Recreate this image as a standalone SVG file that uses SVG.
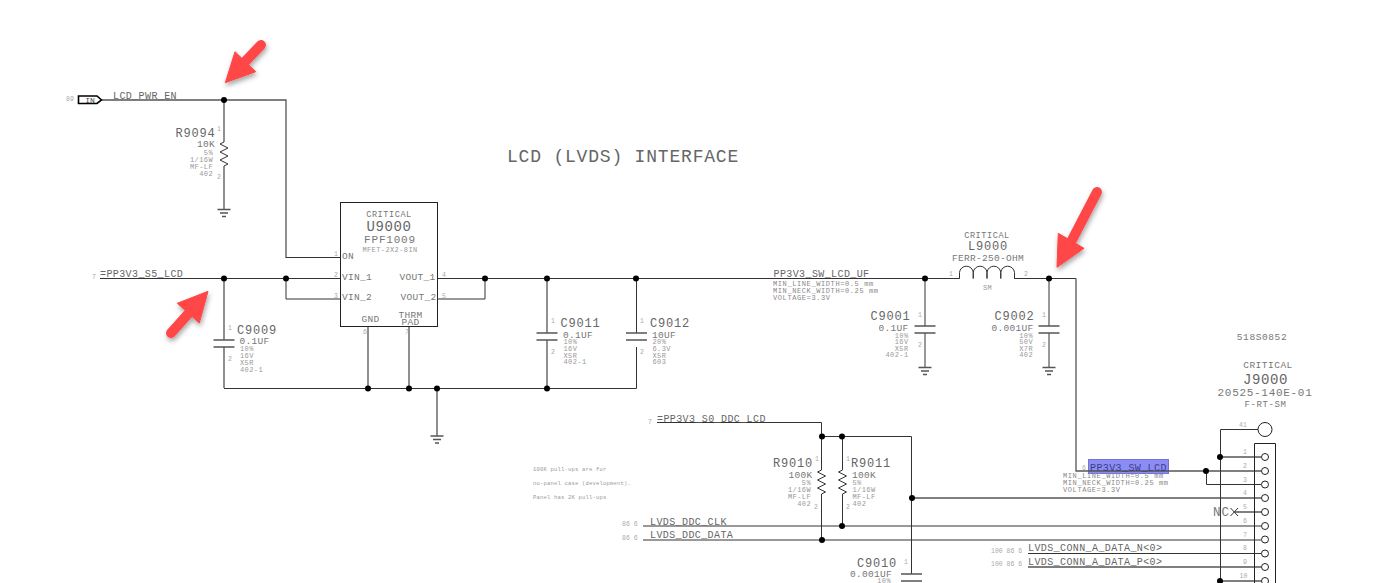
<svg xmlns="http://www.w3.org/2000/svg" width="1374" height="583" viewBox="0 0 1374 583">
<style>
text{font-family:"Liberation Mono","DejaVu Sans Mono",monospace;fill:#666}
.big{font-size:18px;letter-spacing:.8px;fill:#666}
.u{font-size:14px;letter-spacing:.6px;fill:#666}
.a{font-size:12px;letter-spacing:.8px;fill:#666}
.b{font-size:9.5px;letter-spacing:.3px;fill:#777}
.n{font-size:10px;letter-spacing:.4px;fill:#666}
.c{font-size:7px;letter-spacing:.4px;fill:#999}
.m{font-size:7px;letter-spacing:.6px;fill:#888}
.p{font-size:6.500px;fill:#aaa}
.s{font-size:5.5px;letter-spacing:.2px;fill:#999}
.e{text-anchor:end}
.mid{text-anchor:middle}
.w{fill:none;stroke:#333;stroke-width:1}
.g{fill:none;stroke:#555;stroke-width:1.300}
.j{fill:#000}
.pc{fill:#fff;stroke:#222;stroke-width:1}
.arrow{fill:#ff4646;stroke:#ff4646;filter:url(#sh)}
</style>
<defs>
<filter id="sh" x="-30%" y="-30%" width="170%" height="170%"><feDropShadow dx="1" dy="3" stdDeviation="2.5" flood-color="#000" flood-opacity=".35"/></filter>
<g id="gnd"><path class="g" d="M-6.5 0H6.5M-4 3.5H4M-2 7H2"/></g>
<g id="cap"><path class="g" d="M-10.5 0H10.5M-10.5 7H10.5"/></g>
<path id="res" class="w" d="M0 0L-4 2L4 6L-4 10L4 14L-4 18L4 22L0 24"/>
</defs>

<g id="connectors">
<path class="g" d="M102 100H286V258M224 100V142M224 166V209"/>
<path class="w" d="M286 257.5H340.5M100 278.5H340.5M286 278.5V299H340.5"/>
<path class="w" d="M437 278.5H960M437 299H485V278.5M1014 278.5H1076"/>
<path class="g" d="M224 278.5V340M224 347V388M368 326V388M409 326V388M437 388V436"/>
<path class="w" d="M224 388.5H636.5V347M636.5 333V278.5"/>
<path class="g" d="M547 278.5V333M547 340V388"/>
<path class="w" d="M925 278.5V326M925 333V367M1049 278.5V326M1049 333V367"/>
<path class="g" d="M1076 278.5V471H1261"/>
<path class="w" d="M1206.500 471V484.500H1261M657 422.500H821.500V470M821.500 494V540M842.500 436.500V470M842.500 494V526M821.500 436.500H911.500V574"/>
<path class="g" d="M911.500 498H1261"/>
<path class="w" d="M643 526H1261M643 540H1261M1028 553.500H1261"/>
<path class="g" d="M1028 567H1261M1220 457H1261M1234 512H1261M1220 581H1261"/>
<path class="w" d="M1220.500 583V429.500H1258"/>
<path class="w" d="M1230.500 508L1238 516M1238 508L1230.500 516"/>
</g>

<g id="junctions">
<circle class="j" cx="224" cy="100" r="3"/><circle class="j" cx="224" cy="278.500" r="3"/><circle class="j" cx="286" cy="278.500" r="3"/><circle class="j" cx="485" cy="278.500" r="3"/><circle class="j" cx="547" cy="278.500" r="3"/><circle class="j" cx="636" cy="278.500" r="3"/><circle class="j" cx="925" cy="278.500" r="3"/><circle class="j" cx="1049" cy="278.500" r="3"/><circle class="j" cx="368" cy="388.500" r="3"/><circle class="j" cx="409" cy="388.500" r="3"/><circle class="j" cx="437" cy="388.500" r="3"/><circle class="j" cx="547" cy="388.500" r="3"/><circle class="j" cx="822" cy="436.500" r="3"/><circle class="j" cx="842" cy="436.500" r="3"/><circle class="j" cx="912" cy="498" r="3"/><circle class="j" cx="842" cy="526" r="3"/><circle class="j" cx="822" cy="540" r="3"/><circle class="j" cx="1206" cy="471" r="3"/><circle class="j" cx="1220" cy="457" r="3"/><circle class="j" cx="1220" cy="581" r="3"/>
</g>

<g id="title"><text class="big" x="507" y="162">LCD (LVDS) INTERFACE</text></g>

<g id="port-lcd-pwr-en">
<path d="M78.500 96H97L101.500 100L97 103.500H78.500Z" fill="#fff" stroke="#000" stroke-width="1.600"/>
<text class="p" x="66" y="101">89</text>
<text x="90" y="102.500" class="mid" font-size="8" style="fill:#444">IN</text>
<text class="n" x="113" y="98.500">LCD_PWR_EN</text>
</g>

<g id="net-pp3v3-s5"><text class="p" x="92" y="279">7</text><text class="n" x="100" y="277">=PP3V3_S5_LCD</text></g>

<g id="R9094">
<use href="#res" x="224" y="142"/><use href="#gnd" x="224" y="209.500"/>
<text class="a e" x="215.500" y="137">R9094</text><text class="b e" x="215" y="147">10K</text>
<text class="c e" x="213" y="155">5%</text><text class="c e" x="213" y="162">1/16W</text><text class="c e" x="213" y="169">MF-LF</text><text class="c e" x="213" y="176">402</text>
<text class="p" x="217" y="131">1</text><text class="p" x="217" y="179">2</text>
</g>

<g id="U9000">
<rect x="340.500" y="202.500" width="97" height="124" fill="#fff" stroke="#222"/>
<text class="b mid" x="389" y="217" style="font-size:8.500px;letter-spacing:.6px">CRITICAL</text>
<text class="u mid" x="389" y="231">U9000</text>
<text class="b mid" x="390" y="243" style="font-size:11px;letter-spacing:.8px">FPF1009</text>
<text class="c mid" x="390" y="252">MFET-2X2-8IN</text>
<text class="b" x="342" y="258.500">ON</text><text class="b" x="342" y="279.500">VIN_1</text><text class="b" x="342" y="300">VIN_2</text>
<text class="b e" x="435.500" y="279.500">VOUT_1</text><text class="b e" x="436.500" y="300">VOUT_2</text>
<text class="b" x="361.500" y="322">GND</text><text class="b mid" x="410.500" y="317.500">THRM</text><text class="b mid" x="410.500" y="325">PAD</text>
<text class="p" x="334" y="256">1</text><text class="p" x="334" y="277">2</text><text class="p" x="334" y="298">3</text><text class="p" x="442" y="277">4</text><text class="p" x="442" y="298">5</text><text class="p" x="363" y="334">6</text><text class="p" x="405" y="334">7</text>
</g>

<g id="C9009">
<use href="#cap" x="224" y="340"/>
<text class="a" x="237" y="333.500">C9009</text><text class="b" x="239.500" y="343.500">0.1UF</text>
<text class="c" x="240" y="351">10%</text><text class="c" x="240" y="357.500">16V</text><text class="c" x="240" y="364.500">X5R</text><text class="c" x="240" y="371.500">402-1</text>
<text class="p" x="228" y="330">1</text><text class="p" x="228" y="361">2</text>
</g>

<g id="GND-main"><use href="#gnd" x="437" y="436"/></g>

<g id="C9011">
<use href="#cap" x="547" y="333"/>
<text class="a" x="560.500" y="327">C9011</text><text class="b" x="563" y="337.500">0.1UF</text>
<text class="c" x="563.500" y="344">10%</text><text class="c" x="563.500" y="350.500">16V</text><text class="c" x="563.500" y="357.500">X5R</text><text class="c" x="563.500" y="364">402-1</text>
<text class="p" x="551" y="323">1</text><text class="p" x="551" y="354">2</text>
</g>

<g id="C9012">
<use href="#cap" x="636.500" y="333"/>
<text class="a" x="650" y="327">C9012</text><text class="b" x="652" y="337.500">10UF</text>
<text class="c" x="652.500" y="344">20%</text><text class="c" x="652.500" y="350.500">6.3V</text><text class="c" x="652.500" y="357.500">X5R</text><text class="c" x="652.500" y="364">603</text>
<text class="p" x="640" y="323">1</text><text class="p" x="640" y="354">2</text>
</g>

<g id="net-pp3v3-sw-uf">
<text class="n" x="773.500" y="277">PP3V3_SW_LCD_UF</text>
<text class="m" x="773" y="285.500">MIN_LINE_WIDTH=0.5 mm</text><text class="m" x="773" y="292.500">MIN_NECK_WIDTH=0.25 mm</text><text class="m" x="773" y="299.500">VOLTAGE=3.3V</text>
</g>

<g id="C9001">
<use href="#cap" x="925" y="326"/><use href="#gnd" x="925" y="367.500"/>
<text class="a e" x="910.500" y="320">C9001</text><text class="b e" x="908.500" y="330.500">0.1UF</text>
<text class="c e" x="908.500" y="337.500">10%</text><text class="c e" x="908.500" y="344">16V</text><text class="c e" x="908.500" y="350.500">X5R</text><text class="c e" x="908.500" y="357">402-1</text>
<text class="p" x="918" y="317">1</text><text class="p" x="918" y="347">2</text>
</g>

<g id="L9000">
<path d="M959.500 278.500V272.500A6.900 6.900 0 0 1 973.250 272.500V278.500V272.500A6.900 6.900 0 0 1 987 272.500V278.500V272.500A6.900 6.900 0 0 1 1000.750 272.500V278.500V272.500A6.900 6.900 0 0 1 1014.500 272.500V278.500" fill="#fff" stroke="#333"/>
<text class="b mid" x="987" y="237.500" style="font-size:8.500px;letter-spacing:.6px">CRITICAL</text>
<text class="a mid" x="988" y="250">L9000</text><text class="b mid" x="988" y="260.500">FERR-250-OHM</text>
<text class="c mid" x="987.500" y="289.500">SM</text>
<text class="p" x="949" y="276">1</text><text class="p" x="1024" y="276">2</text>
</g>

<g id="C9002">
<use href="#cap" x="1049" y="326"/><use href="#gnd" x="1049" y="367.500"/>
<text class="a e" x="1034.500" y="320">C9002</text><text class="b e" x="1033.500" y="330.500">0.001UF</text>
<text class="c e" x="1033" y="337.500">10%</text><text class="c e" x="1033" y="344">50V</text><text class="c e" x="1033" y="350.500">X7R</text><text class="c e" x="1033" y="357">402</text>
<text class="p" x="1042" y="317">1</text><text class="p" x="1042" y="347">2</text>
</g>

<g id="net-pp3v3-sw-lcd">
<rect x="1088.500" y="459.500" width="80" height="14" fill="#8c8cf5" stroke="#7272d8"/>
<path class="g" d="M1088 471H1169"/>
<text class="p" x="1082" y="470">6</text>
<text class="n" x="1090" y="470.500" style="fill:#3c3c88">PP3V3_SW_LCD</text>
<text class="m" x="1063" y="478">MIN_LINE_WIDTH=0.5 mm</text><text class="m" x="1063" y="485">MIN_NECK_WIDTH=0.25 mm</text><text class="m" x="1063" y="492">VOLTAGE=3.3V</text>
</g>

<g id="note">
<text class="s" x="533" y="471">100K pull-ups are for</text><text class="s" x="533" y="484.500">no-panel case (development).</text><text class="s" x="533" y="498.500">Panel has 2K pull-ups</text>
</g>

<g id="net-pp3v3-s0"><text class="p" x="648" y="424">7</text><text class="n" x="657" y="421.500">=PP3V3_S0_DDC_LCD</text></g>
<g id="net-ddc-clk"><text class="p" x="622" y="525.500">86 6</text><text class="n" x="650" y="524.500">LVDS_DDC_CLK</text></g>
<g id="net-ddc-data"><text class="p" x="622" y="539.500">86 6</text><text class="n" x="650" y="538">LVDS_DDC_DATA</text></g>

<g id="R9010">
<use href="#res" x="821.500" y="470"/>
<text class="a e" x="813" y="467">R9010</text><text class="b e" x="812.500" y="477.500">100K</text>
<text class="c e" x="811" y="484.500">5%</text><text class="c e" x="811" y="492">1/16W</text><text class="c e" x="811" y="499">MF-LF</text><text class="c e" x="811" y="505.500">402</text>
<text class="p" x="815" y="461">1</text><text class="p" x="814" y="509">2</text>
</g>

<g id="R9011">
<use href="#res" x="842.500" y="470"/>
<text class="a" x="851" y="467">R9011</text><text class="b" x="852" y="477.500">100K</text>
<text class="c" x="852.500" y="484.500">5%</text><text class="c" x="852.500" y="492">1/16W</text><text class="c" x="852.500" y="499">MF-LF</text><text class="c" x="852.500" y="505.500">402</text>
<text class="p" x="846" y="461">1</text><text class="p" x="846" y="509">2</text>
</g>

<g id="C9010">
<use href="#cap" x="911.500" y="574"/>
<text class="a e" x="897" y="567">C9010</text><text class="b e" x="892" y="577">0.001UF</text><text class="c e" x="891" y="583">10%</text>
<text class="p" x="904" y="564">1</text>
</g>

<g id="net-conn-n"><text class="p" x="991" y="552.500">100 86 6</text><text class="n" x="1028" y="551">LVDS_CONN_A_DATA_N&lt;0&gt;</text></g>
<g id="net-conn-p"><text class="p" x="991" y="565.500">100 86 6</text><text class="n" x="1028" y="565">LVDS_CONN_A_DATA_P&lt;0&gt;</text></g>

<g id="J9000">
<path fill="none" stroke="#222" d="M1254.500 583V443.500H1275.500V583"/>
<circle class="pc" cx="1265" cy="429.500" r="7"/>
<circle class="pc" cx="1265" cy="457" r="3.500"/><circle class="pc" cx="1265" cy="471" r="3.500"/><circle class="pc" cx="1265" cy="484.500" r="3.500"/><circle class="pc" cx="1265" cy="498" r="3.500"/><circle class="pc" cx="1265" cy="512" r="3.500"/><circle class="pc" cx="1265" cy="526" r="3.500"/><circle class="pc" cx="1265" cy="539.500" r="3.500"/><circle class="pc" cx="1265" cy="553.500" r="3.500"/><circle class="pc" cx="1265" cy="567" r="3.500"/><circle class="pc" cx="1265" cy="581" r="3.500"/>
<text class="b mid" x="1262" y="340" style="letter-spacing:.6px">518S0852</text>
<text class="b mid" x="1268" y="368" style="letter-spacing:.5px">CRITICAL</text>
<text class="u mid" x="1265.500" y="384">J9000</text>
<text class="b mid" x="1265" y="395.500" style="font-size:11px;letter-spacing:.7px">20525-140E-01</text>
<text class="b mid" x="1265.500" y="407" style="font-size:9px;letter-spacing:.6px">F-RT-SM</text>
<text class="p" x="1239" y="427">41</text>
<text class="b" x="1213" y="516" style="font-size:12.500px;letter-spacing:1px">NC</text>
<text class="p" x="1243" y="454">1</text><text class="p" x="1243" y="468">2</text><text class="p" x="1243" y="481.500">3</text><text class="p" x="1243" y="495">4</text><text class="p" x="1243" y="509">5</text><text class="p" x="1243" y="522.500">6</text><text class="p" x="1243" y="536.500">7</text><text class="p" x="1243" y="550">8</text><text class="p" x="1243" y="564">9</text><text class="p" x="1239.500" y="577.500">10</text>
</g>

<g id="arrows">
<g class="arrow"><path d="M225.300 82.700L235 51.700L255.700 71.700Z"/><path d="M261 45L241 66" stroke-width="10" stroke-linecap="round" fill="none"/></g>
<g class="arrow"><path d="M208 291.300L177.300 303.300L199.300 323Z"/><path d="M171 333L189 313" stroke-width="10" stroke-linecap="round" fill="none"/></g>
<g class="arrow"><path d="M1057 267.300L1058.300 233.300L1084 248.300Z"/><path d="M1097 192L1072 240" stroke-width="10" stroke-linecap="round" fill="none"/></g>
</g>
</svg>
